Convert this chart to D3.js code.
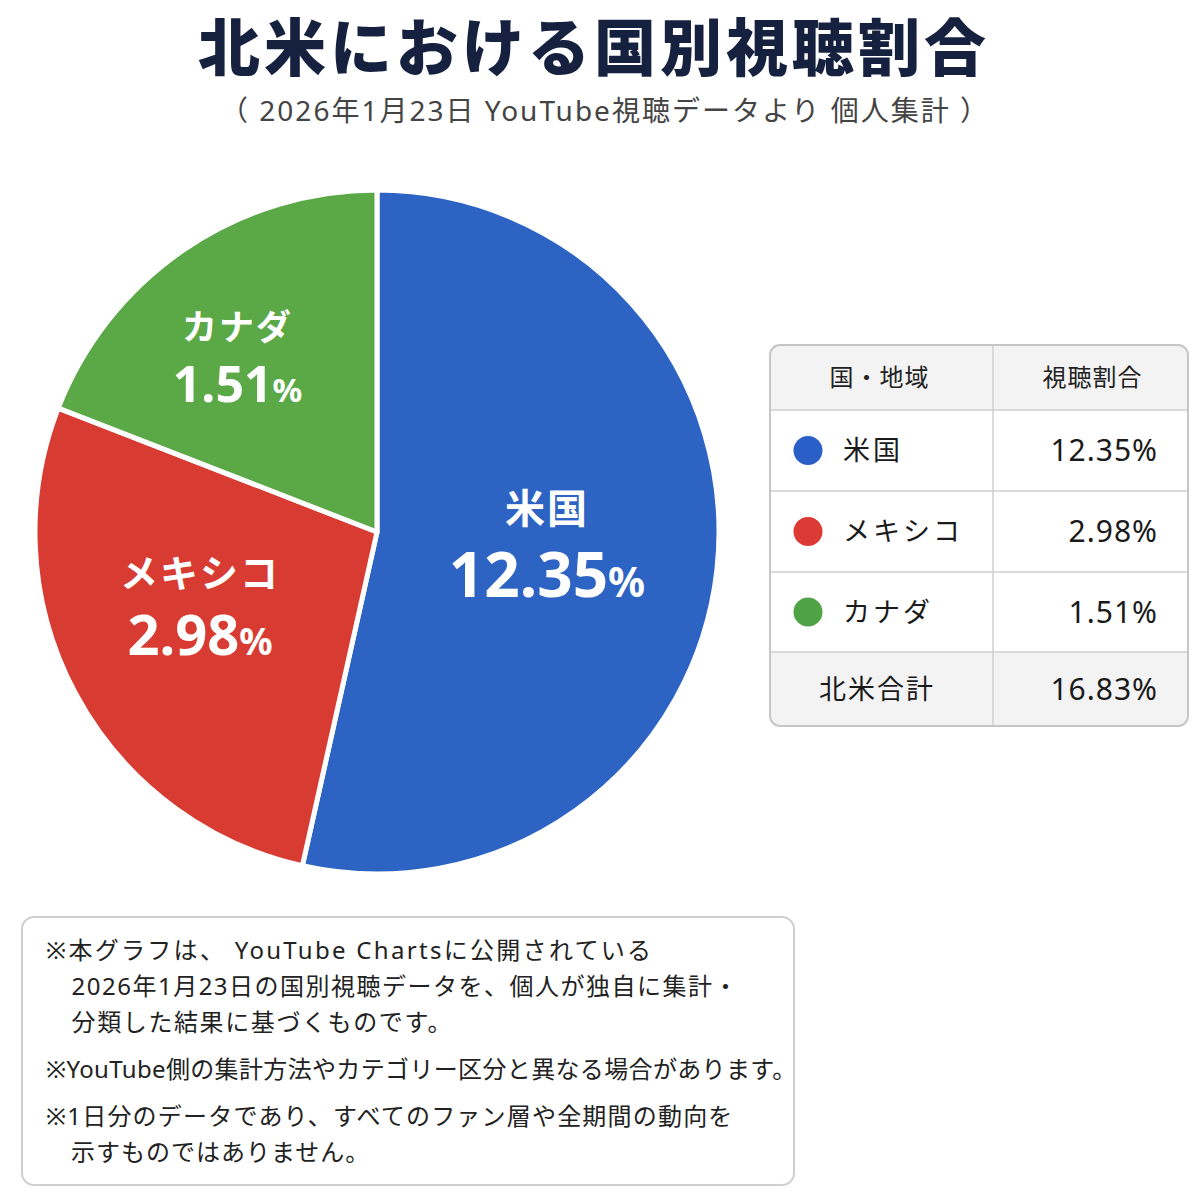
<!DOCTYPE html>
<html>
<head>
<meta charset="utf-8">
<script src="https://cdn.jsdelivr.net/npm/d3@7"></script>
<style>
  body { margin: 0; background: #fff; }
  svg { display: block; font-family: "Noto Sans", "Noto Sans CJK JP", sans-serif; }
</style>
</head>
<body>
<svg id="chart"></svg>
<script>
// values
var countries = ["米国", "メキシコ", "カナダ"];
var shares = [12.35, 2.98, 1.51];
var totalShare = 16.83;
// the original pie does not scale slices to the shares; these are the drawn slice sizes (% of circle)
var sliceWeights = [53.5, 27.4, 19.1];
var tableHeader = ["国・地域", "視聴割合"];
var totalLabel = "北米合計";
var title = "北米における国別視聴割合";
var subtitle = "（ 2026年1月23日 YouTube視聴データより 個人集計 ）";
var notes = [
  ["※本グラフは、 YouTube Chartsに公開されている", "　2026年1月23日の国別視聴データを、個人が独自に集計・", "　分類した結果に基づくものです。"],
  ["※YouTube側の集計方法やカテゴリー区分と異なる場合があります。"],
  ["※1日分のデータであり、すべてのファン層や全期間の動向を", "　示すものではありません。"]
];

var W = 1200, H = 1200;
var svg = d3.select("#chart").attr("width", W).attr("height", H);

var color = d3.scaleOrdinal()
  .domain(countries)
  .range(["#2d63c2", "#d83b31", "#5aa846"]);
var dotColor = d3.scaleOrdinal()
  .domain(countries)
  .range(["#2b5fc8", "#dc3a34", "#50a345"]);

var fmt = function(v) { return d3.format(".2f")(v); };

// title
svg.append("text")
  .attr("x", 594)
  .attr("y", 71)
  .style("font-family", "'Noto Sans CJK JP', sans-serif")
  .style("font-size", "62px")
  .style("font-weight", 900)
  .style("letter-spacing", "4px")
  .style("fill", "#16213f")
  .style("text-anchor", "middle")
  .text(title);

svg.append("text")
  .attr("x", 605)
  .attr("y", 121)
  .style("font-size", "28px")
  .style("letter-spacing", "2px")
  .style("fill", "#444")
  .style("text-anchor", "middle")
  .text(subtitle);

// pie
var cx = 377, cy = 532, r = 342;
var pieData = countries.map(function(c, i) {
  return { name: c, share: shares[i], weight: sliceWeights[i] };
});

var pie = d3.pie()
  .sort(null)
  .value(function(d) { return d.weight; });

var arc = d3.arc().innerRadius(0).outerRadius(r);

var g = svg.append("g")
  .attr("transform", "translate(" + cx + "," + cy + ")");

var arcs = pie(pieData);

g.selectAll(".slice")
  .data(arcs)
  .enter().append("path")
  .attr("class", "slice")
  .attr("d", arc)
  .style("fill", function(d) { return color(d.data.name); })
  .style("stroke", "#fff")
  .style("stroke-width", 5)
  .style("stroke-linejoin", "round");

// label placement inside each slice: depth along the mid-angle plus a small nudge
var labelDepth = [0.5, 0.56, 0.66];
var labelNudge = [[0, -3], [-8, -12], [-12, 16]];
var nameSize = [40, 38, 35];
var numSize = [62, 56, 50];

var labels = g.selectAll(".lbl")
  .data(arcs)
  .enter().append("g")
  .attr("class", "lbl")
  .attr("transform", function(d, i) {
    var a = (d.startAngle + d.endAngle) / 2;
    var rr = r * labelDepth[i];
    return "translate(" + (rr * Math.sin(a) + labelNudge[i][0]) + "," + (-rr * Math.cos(a) + labelNudge[i][1]) + ")";
  })
  .style("fill", "#fff")
  .style("text-anchor", "middle")
  .style("font-weight", 700);

labels.append("text")
  .attr("y", function(d, i) { return -nameSize[i] * 0.62; })
  .style("font-family", "'Noto Sans CJK JP', sans-serif")
  .style("font-size", function(d, i) { return nameSize[i] + "px"; })
  .style("letter-spacing", "2px")
  .text(function(d) { return d.data.name; });

var pct = labels.append("text")
  .attr("y", function(d, i) { return numSize[i] * 0.8; });
pct.append("tspan")
  .style("font-size", function(d, i) { return numSize[i] + "px"; })
  .text(function(d) { return fmt(d.data.share); });
pct.append("tspan")
  .style("font-size", function(d, i) { return Math.round(numSize[i] * 0.66) + "px"; })
  .text("%");

// table
var tx0 = 770, tx1 = 1188, tcol = 993;
var rowKeys = ["head"].concat(countries).concat(["total"]);
var rowEdges = [345, 410, 491, 572, 652, 726];
var yTop = d3.scaleOrdinal().domain(rowKeys).range(rowEdges.slice(0, 5));
var yBot = d3.scaleOrdinal().domain(rowKeys).range(rowEdges.slice(1));
var ty0 = rowEdges[0], ty1 = rowEdges[5];

var table = svg.append("g");
table.append("clipPath").attr("id", "tclip")
  .append("rect")
  .attr("x", tx0).attr("y", ty0)
  .attr("width", tx1 - tx0).attr("height", ty1 - ty0)
  .attr("rx", 10);

var tbody = table.append("g").attr("clip-path", "url(#tclip)");
tbody.selectAll(".rowbg")
  .data(rowKeys)
  .enter().append("rect")
  .attr("class", "rowbg")
  .attr("x", tx0)
  .attr("y", function(d) { return yTop(d); })
  .attr("width", tx1 - tx0)
  .attr("height", function(d) { return yBot(d) - yTop(d); })
  .style("fill", function(d) { return (d === "head" || d === "total") ? "#f3f3f3" : "#fff"; });

tbody.selectAll(".rowline")
  .data(rowKeys.slice(1))
  .enter().append("line")
  .attr("x1", tx0).attr("x2", tx1)
  .attr("y1", function(d) { return yTop(d); })
  .attr("y2", function(d) { return yTop(d); })
  .style("stroke", "#cfcfcf")
  .style("stroke-width", 1.5);

tbody.append("line")
  .attr("x1", tcol).attr("x2", tcol)
  .attr("y1", ty0).attr("y2", ty1)
  .style("stroke", "#cfcfcf")
  .style("stroke-width", 1.5);

table.append("rect")
  .attr("x", tx0).attr("y", ty0)
  .attr("width", tx1 - tx0).attr("height", ty1 - ty0)
  .attr("rx", 10)
  .style("fill", "none")
  .style("stroke", "#c6c6c6")
  .style("stroke-width", 2);

var mid = function(k) { return (yTop(k) + yBot(k)) / 2; };

table.selectAll(".hd")
  .data(tableHeader)
  .enter().append("text")
  .attr("x", function(d, i) { return i === 0 ? (tx0 + tcol) / 2 - 2 : (tcol + tx1) / 2 + 2; })
  .attr("y", mid("head"))
  .attr("dy", "0.36em")
  .style("font-family", "'Noto Sans CJK JP', sans-serif")
  .style("font-size", "24px")
  .style("fill", "#222")
  .style("letter-spacing", "1px")
  .style("text-anchor", "middle")
  .text(function(d) { return d; });

var rows = table.selectAll(".trow")
  .data(pieData)
  .enter().append("g")
  .attr("class", "trow")
  .attr("transform", function(d) { return "translate(0," + mid(d.name) + ")"; });

rows.append("circle")
  .attr("cx", 808)
  .attr("r", 14.5)
  .style("fill", function(d) { return dotColor(d.name); });

rows.append("text")
  .attr("x", 843)
  .attr("dy", "0.36em")
  .style("font-family", "'Noto Sans CJK JP', sans-serif")
  .style("font-size", "27px")
  .style("letter-spacing", "3px")
  .style("fill", "#1a1a1a")
  .text(function(d) { return d.name; });

rows.append("text")
  .attr("x", 1158)
  .attr("dy", "0.36em")
  .style("font-size", "30px")
  .style("letter-spacing", "1px")
  .style("fill", "#1a1a1a")
  .style("text-anchor", "end")
  .text(function(d) { return fmt(d.share) + "%"; });

table.append("text")
  .attr("x", 877)
  .attr("y", mid("total"))
  .attr("dy", "0.36em")
  .style("font-family", "'Noto Sans CJK JP', sans-serif")
  .style("font-size", "27px")
  .style("letter-spacing", "2px")
  .style("fill", "#1a1a1a")
  .style("text-anchor", "middle")
  .text(totalLabel);

table.append("text")
  .attr("x", 1158)
  .attr("y", mid("total"))
  .attr("dy", "0.36em")
  .style("font-size", "30px")
  .style("letter-spacing", "1px")
  .style("fill", "#1a1a1a")
  .style("text-anchor", "end")
  .text(fmt(totalShare) + "%");

// notes box
svg.append("rect")
  .attr("x", 22).attr("y", 917)
  .attr("width", 772).attr("height", 268)
  .attr("rx", 12)
  .style("fill", "#fff")
  .style("stroke", "#cfcfcf")
  .style("stroke-width", 2);

var lineSpacing = [[2.3, 1.5, 1.6], [0.35], [1.2, 1.0]];
var noteLines = [];
var ny = 959;
notes.forEach(function(block, bi) {
  block.forEach(function(line, li) {
    noteLines.push({ text: line, y: ny, ls: lineSpacing[bi][li] });
    ny += 36;
  });
  ny += 11;
});

svg.selectAll(".note")
  .data(noteLines)
  .enter().append("text")
  .attr("class", "note")
  .attr("x", 46)
  .attr("y", function(d) { return d.y; })
  .style("font-size", "24px")
  .style("letter-spacing", function(d) { return d.ls + "px"; })
  .style("fill", "#222")
  .text(function(d) { return d.text; });
</script>
</body>
</html>
